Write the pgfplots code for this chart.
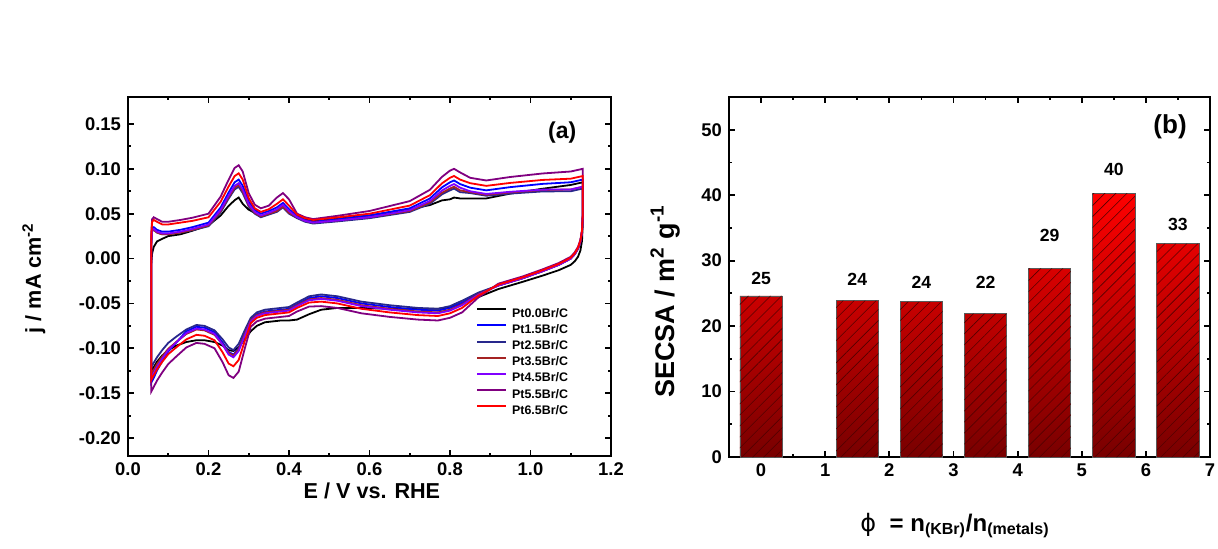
\documentclass[border=0pt]{standalone}
\usepackage{fontspec}
\setmainfont{Liberation Sans}
\newfontfamily\greekfont{DejaVu Sans}
\usepackage{pgfplots}
\usepackage{pgfplotstable}
\pgfplotsset{compat=1.18}
\usetikzlibrary{patterns.meta}

\definecolor{cvnavy}{RGB}{40,40,140}
\definecolor{cvbrown}{RGB}{165,35,35}
\definecolor{cvviolet}{RGB}{128,0,255}
\definecolor{cvpurple}{RGB}{128,0,128}
\definecolor{bartop}{RGB}{255,0,0}
\definecolor{barbottom}{RGB}{120,0,0}
\definecolor{hatch}{RGB}{85,0,0}

% cyclic voltammograms: anodic sweep, cathodic sweep, back to the start
\pgfplotstableread{
V      j00     j15     j25     j35     j45     j55     j65
0.058 -0.005   0.020   0.017   0.017   0.018   0.030   0.027
0.060  0.006   0.034   0.031   0.031   0.032   0.044   0.041
0.064  0.013   0.035   0.032   0.032   0.033   0.046   0.043
0.072  0.019   0.032   0.029   0.029   0.030   0.044   0.041
0.085  0.022   0.030   0.027   0.027   0.028   0.041   0.038
0.100  0.025   0.030   0.027   0.027   0.028   0.041   0.038
0.130  0.027   0.032   0.029   0.029   0.030   0.043   0.040
0.160  0.031   0.035   0.0315  0.032   0.033   0.0455  0.042
0.200  0.037   0.040   0.036   0.037   0.038   0.050   0.046
0.230  0.0479  0.0568  0.0514  0.0528  0.0541  0.0689  0.0632
0.250  0.0587  0.0736  0.0668  0.0685  0.0702  0.0878  0.0803
0.265  0.065   0.085   0.077   0.079   0.081   0.101   0.092
0.275  0.068   0.088   0.080   0.082   0.084   0.104   0.095
0.285  0.061   0.081   0.073   0.075   0.077   0.097   0.088
0.300  0.0544  0.0633  0.0579  0.0593  0.0606  0.0728  0.0671
0.315  0.051   0.054   0.050   0.051   0.052   0.060   0.056
0.330  0.047   0.050   0.046   0.047   0.048   0.056   0.052
0.350  0.050   0.053   0.049   0.050   0.051   0.059   0.055
0.370  0.053   0.057   0.052   0.053   0.055   0.068   0.061
0.385  0.058   0.062   0.057   0.058   0.060   0.073   0.066
0.400  0.051   0.055   0.050   0.051   0.053   0.066   0.059
0.420  0.048   0.047   0.045   0.046   0.046   0.050   0.049
0.440  0.044   0.043   0.041   0.042   0.042   0.046   0.045
0.460  0.042   0.041   0.039   0.040   0.040   0.044   0.043
0.520  0.0444  0.0438  0.0414  0.0424  0.0424  0.0476  0.0458
0.600  0.048   0.048   0.045   0.046   0.046   0.053   0.050
0.700  0.055   0.056   0.052   0.053   0.054   0.064   0.059
0.750  0.0596  0.0669  0.0611  0.0625  0.0642  0.0766  0.0706
0.780  0.0648  0.0793  0.0715  0.0733  0.0758  0.091   0.0838
0.800  0.066   0.085   0.076   0.078   0.081   0.098   0.090
0.810  0.068   0.087   0.078   0.080   0.083   0.100   0.092
0.825  0.067   0.083   0.074   0.076   0.079   0.096   0.088
0.850  0.067   0.079   0.073   0.074   0.075   0.090   0.084
0.890  0.067   0.076   0.070   0.071   0.072   0.087   0.081
0.950  0.0724  0.0796  0.0724  0.0737  0.0744  0.0909  0.0843
1.030  0.0778  0.0832  0.0748  0.0764  0.0768  0.0948  0.0876
1.100  0.082   0.085   0.075   0.077   0.077   0.097   0.089
1.130  0.085   0.088   0.078   0.080   0.080   0.100   0.092
1.130  0.040   0.050   0.050   0.050   0.050   0.052   0.051
1.128  0.020   0.030   0.030   0.030   0.030   0.032   0.031
1.124  0.009   0.019   0.019   0.019   0.019   0.021   0.020
1.118  0.002   0.011   0.011   0.011   0.011   0.013   0.012
1.110 -0.003   0.005   0.005   0.005   0.005   0.007   0.006
1.100 -0.007   0.000   0.000   0.000   0.000   0.002   0.001
1.070 -0.013  -0.007  -0.007  -0.007  -0.007  -0.005  -0.006
1.030 -0.019  -0.014  -0.014  -0.014  -0.014  -0.012  -0.013
0.980 -0.026  -0.022  -0.022  -0.022  -0.022  -0.020  -0.021
0.920 -0.034  -0.030  -0.030  -0.030  -0.030  -0.028  -0.029
0.870 -0.043  -0.039  -0.038  -0.040  -0.0405 -0.0435 -0.0415
0.830 -0.050  -0.049  -0.047  -0.051  -0.052  -0.060  -0.055
0.800 -0.054  -0.055  -0.053  -0.057  -0.058  -0.066  -0.061
0.770 -0.056  -0.058  -0.056  -0.060  -0.061  -0.069  -0.064
0.720 -0.056  -0.057  -0.055  -0.059  -0.060  -0.068  -0.063
0.650 -0.056  -0.054  -0.052  -0.056  -0.057  -0.065  -0.060
0.580 -0.055  -0.050  -0.048  -0.052  -0.053  -0.061  -0.056
0.520 -0.055  -0.044  -0.042  -0.046  -0.047  -0.055  -0.050
0.480 -0.057  -0.042  -0.040  -0.044  -0.045  -0.053  -0.048
0.450 -0.062  -0.044  -0.042  -0.0455 -0.0465 -0.0535 -0.049
0.420 -0.068  -0.051  -0.049  -0.052  -0.053  -0.059  -0.055
0.400 -0.069  -0.056  -0.054  -0.057  -0.058  -0.064  -0.060
0.380 -0.069  -0.057  -0.055  -0.058  -0.059  -0.065  -0.061
0.360 -0.070  -0.058  -0.056  -0.059  -0.060  -0.066  -0.062
0.340 -0.071  -0.059  -0.057  -0.060  -0.061  -0.067  -0.063
0.320 -0.075  -0.062  -0.060  -0.063  -0.064  -0.070  -0.066
0.305 -0.081  -0.068  -0.066  -0.069  -0.070  -0.076  -0.072
0.290 -0.090  -0.0835 -0.080  -0.0845 -0.086  -0.1005 -0.092
0.275 -0.099  -0.100  -0.095  -0.101  -0.103  -0.126  -0.113
0.262 -0.103  -0.107  -0.102  -0.108  -0.110  -0.133  -0.120
0.250 -0.102  -0.104  -0.099  -0.105  -0.107  -0.130  -0.117
0.235 -0.097  -0.0935 -0.090  -0.0955 -0.096  -0.1155 -0.1045
0.215 -0.093  -0.082  -0.080  -0.085  -0.084  -0.100  -0.091
0.190 -0.091  -0.077  -0.075  -0.080  -0.079  -0.095  -0.086
0.170 -0.091  -0.076  -0.074  -0.079  -0.078  -0.094  -0.085
0.145 -0.093  -0.081  -0.079  -0.084  -0.083  -0.099  -0.090
0.120 -0.097  -0.0935 -0.087  -0.0929 -0.0934 -0.1091 -0.0989
0.100 -0.102  -0.1035 -0.094  -0.1005 -0.102  -0.1175 -0.1065
0.085 -0.108  -0.1145 -0.102  -0.1091 -0.1116 -0.1269 -0.1151
0.072 -0.115  -0.1248 -0.110  -0.1176 -0.1208 -0.1360 -0.1236
0.064 -0.121  -0.133  -0.116  -0.124  -0.128  -0.143  -0.130
0.058 -0.125  -0.138  -0.121  -0.129  -0.133  -0.148  -0.135
0.058 -0.005   0.020   0.017   0.017   0.018   0.030   0.027
}\cvdata

% specific ECSA against KBr/metal ratio; dy lifts each value label (pt)
\pgfplotstableread{
phi  secsa  dy
0    24.6   8.9
1.5  23.9  10.5
2.5  23.7   9.9
3.5  21.9  15.5
4.5  28.8  16.7
5.5  40.3  11.9
6.5  32.6   9.5
}\secsadata

\begin{document}
\begin{tikzpicture}
\useasboundingbox (0pt,0pt) rectangle (609pt,274pt);
\pgfplotsset{
  panel/.style={
    scale only axis,
    axis line style={line width=1pt},
    every tick/.style={black, line width=0.9pt},
    major tick length=3pt,
    minor tick length=1.7pt,
    tick align=inside,
    tick label style={font=\fontsize{9.2}{10}\selectfont\bfseries},
    /pgf/number format/assume math mode=true,
  },
}
% (a) cyclic voltammograms
\begin{axis}[panel,
  at={(64pt,46pt)}, anchor=south west,
  width=241.5pt, height=179.5pt,
  xmin=0, xmax=1.2, ymin=-0.22, ymax=0.18,
  xtick={0,0.2,0.4,0.6,0.8,1.0,1.2},
  ytick={-0.20,-0.15,-0.10,-0.05,0,0.05,0.10,0.15},
  minor x tick num=1, minor y tick num=1,
  xticklabel style={/pgf/number format/.cd,fixed,fixed zerofill,precision=1},
  yticklabel style={/pgf/number format/.cd,fixed,fixed zerofill,precision=2},
  xlabel={E / V vs. RHE},
  ylabel={j / mA cm\textsuperscript{-2}},
  label style={font=\fontsize{10.8}{12}\selectfont\bfseries},
  xlabel style={at={(axis description cs:0.505,-0.097)}, anchor=center},
  ylabel style={at={(axis description cs:-0.195,0.496)}, anchor=center},
  legend style={draw=none, fill=none, at={(0.72,0.416)}, anchor=north west,
    font=\fontsize{6.2}{7}\selectfont\bfseries, row sep=1.9pt, inner sep=0pt,
    nodes={inner sep=0pt, text height=5pt, text depth=1.2pt},
    /tikz/every odd column/.style={column sep=2.5pt}},
  legend cell align=left,
  legend image code/.code={\draw[#1, line width=1pt] (0pt,2pt) -- (14.5pt,2pt);},
  every axis plot/.append style={line width=0.9pt},
]
\addplot[black]    table[x=V, y=j00]{\cvdata};
\addplot[blue]     table[x=V, y=j15]{\cvdata};
\addplot[cvnavy]   table[x=V, y=j25]{\cvdata};
\addplot[cvbrown]  table[x=V, y=j35]{\cvdata};
\addplot[cvviolet] table[x=V, y=j45]{\cvdata};
\addplot[cvpurple] table[x=V, y=j55]{\cvdata};
\addplot[red]      table[x=V, y=j65]{\cvdata};
\legend{Pt0.0Br/C, Pt1.5Br/C, Pt2.5Br/C, Pt3.5Br/C, Pt4.5Br/C, Pt5.5Br/C, Pt6.5Br/C}
\node[font=\fontsize{11.5}{13}\selectfont\bfseries] at (rel axis cs:0.899,0.90) {(a)};
\end{axis}

% (b) specific electrochemical surface area
\begin{axis}[panel,
  at={(364.5pt,45.5pt)}, anchor=south west,
  width=240.5pt, height=180pt,
  xmin=-0.5, xmax=7, ymin=0, ymax=55,
  xtick={0,1,2,3,4,5,6,7},
  ytick={0,10,20,30,40,50},
  minor x tick num=1, minor y tick num=1,
  ylabel={SECSA / m\textsuperscript{2} g\textsuperscript{-1}},
  ylabel style={at={(axis description cs:-0.133,0.433)}, anchor=center,
    font=\fontsize{13.5}{15}\selectfont\bfseries},
  xlabel={{\greekfont\mdseries ϕ}\ \ = n\textsubscript{(KBr)}/n\textsubscript{(metals)}},
  xlabel style={at={(axis description cs:0.47,-0.19)}, anchor=center,
    font=\fontsize{12}{14}\selectfont\bfseries},
]
% gradient-filled bars
\addplot[ybar, bar width=0.66, bar shift=0pt, draw=black!65, line width=0.4pt,
  top color=bartop, bottom color=barbottom]
  table[x=phi, y=secsa]{\secsadata};
% hatching over the same bars
\addplot[ybar, bar width=0.66, bar shift=0pt, draw=none,
  pattern={Lines[angle=45,distance=3.9pt,line width=0.3pt]}, pattern color=hatch]
  table[x=phi, y=secsa]{\secsadata};
% value labels
\addplot[ybar, bar width=0.66, bar shift=0pt, draw=none, fill=none,
  point meta=y,
  visualization depends on={\thisrow{dy} \as \labeldy},
  nodes near coords={\pgfmathprintnumber[fixed,precision=0,assume math mode=true]{\pgfplotspointmeta}},
  every node near coord/.append style={anchor=center, yshift=\labeldy,
    font=\fontsize{8.8}{10}\selectfont\bfseries, text=black}]
  table[x=phi, y=secsa]{\secsadata};
\node[font=\fontsize{13}{15}\selectfont\bfseries] at (rel axis cs:0.917,0.917) {(b)};
\end{axis}
\end{tikzpicture}
\end{document}
